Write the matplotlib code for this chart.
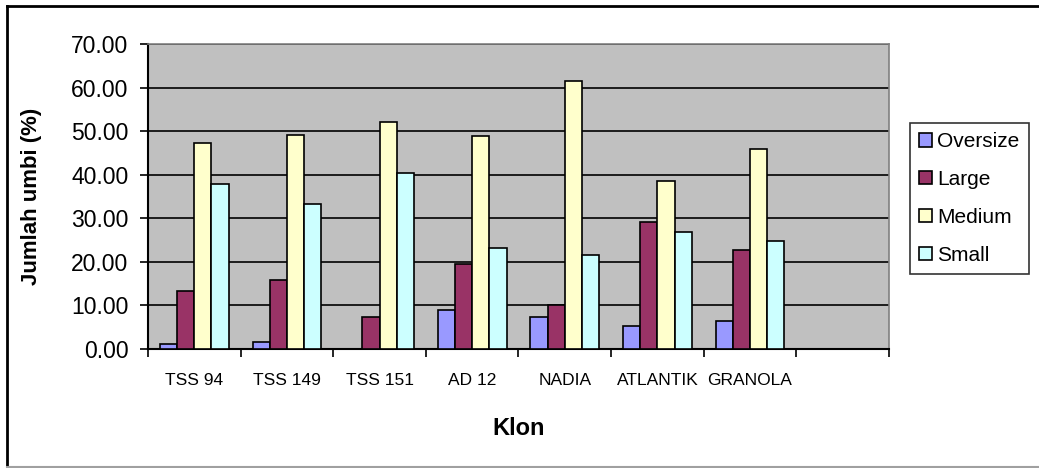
import matplotlib.pyplot as plt
import numpy as np
from matplotlib.lines import Line2D

plt.rcParams['font.family'] = ['Liberation Sans', 'DejaVu Sans']

# Data
klon = ['TSS 94', 'TSS 149', 'TSS 151', 'AD 12', 'NADIA', 'ATLANTIK', 'GRANOLA', '']
oversize = [1.2, 1.5, 0.0, 8.9, 7.3, 5.3, 6.4]
large = [13.4, 15.8, 7.3, 19.4, 10.1, 29.2, 22.7]
medium = [47.2, 49.2, 52.1, 48.8, 61.5, 38.6, 45.9]
small = [37.8, 33.3, 40.3, 23.1, 21.6, 26.8, 24.8]

series = [('Oversize', oversize, '#9999FF'),
          ('Large', large, '#993366'),
          ('Medium', medium, '#FFFFCC'),
          ('Small', small, '#CCFFFF')]

fig = plt.figure(figsize=(10.39, 4.68), dpi=100)
ax = fig.add_axes([0.1424, 0.2543, 0.8556 - 0.1424, 0.906 - 0.2543])
ax.set_facecolor('#C0C0C0')

n = len(oversize)
bw = 0.1855
centers = np.arange(n) + 0.5
for k, (name, vals, col) in enumerate(series):
    ax.bar(centers + (k - 1.5) * bw, vals, width=bw, color=col,
           edgecolor='black', linewidth=1.2, label=name, zorder=3)

ax.set_xlim(0, len(klon))
ax.set_ylim(0, 70)
ax.set_yticks(np.arange(0, 71, 10))
ax.set_yticklabels([f'{v:.2f}' for v in np.arange(0, 71, 10)], fontsize=16.5)
ax.yaxis.grid(True, color='black', linewidth=1.2, zorder=1)
ax.set_axisbelow(True)

ax.set_xticks(np.arange(0, len(klon) + 1))
ax.set_xticklabels([])
ax.set_xticks(np.arange(len(klon)) + 0.5, minor=True)
ax.set_xticklabels(klon, minor=True, fontsize=12.5)
ax.tick_params(axis='x', which='minor', length=0, pad=17)
ax.tick_params(axis='x', which='major', length=6, width=1.2, direction='out')
ax.tick_params(axis='y', length=6, width=1.2, direction='out', pad=8)

for s in ['top', 'right']:
    ax.spines[s].set_color('#808080')
    ax.spines[s].set_linewidth(1.2)
for s in ['left', 'bottom']:
    ax.spines[s].set_color('black')
    ax.spines[s].set_linewidth(1.5)

ax.set_xlabel('Klon', fontsize=17, fontweight='bold', labelpad=21)
ax.set_ylabel('Jumlah umbi (%)', fontsize=16, fontweight='bold')
ax.yaxis.set_label_coords(-0.143, 0.5)

leg = ax.legend(loc='upper left', bbox_to_anchor=(910 / 1039, 1 - 123 / 468),
                bbox_transform=fig.transFigure, fontsize=15, frameon=True,
                fancybox=False, edgecolor='black', handlelength=0.6,
                handleheight=0.6, handletextpad=0.25, labelspacing=0.9,
                borderpad=0.45, borderaxespad=0)
leg.get_frame().set_linewidth(1.2)

# outer chart-area border (top and left black, bottom grey)
fig.add_artist(Line2D([7 / 1039, 1], [1 - 6 / 468, 1 - 6 / 468],
                      transform=fig.transFigure, color='black', linewidth=2))
fig.add_artist(Line2D([7 / 1039, 7 / 1039], [1 / 468, 1 - 6 / 468],
                      transform=fig.transFigure, color='black', linewidth=2))
fig.add_artist(Line2D([7 / 1039, 1], [1 / 468, 1 / 468],
                      transform=fig.transFigure, color='#A0A0A0', linewidth=1.5))

fig.savefig('out.png', dpi=100)
